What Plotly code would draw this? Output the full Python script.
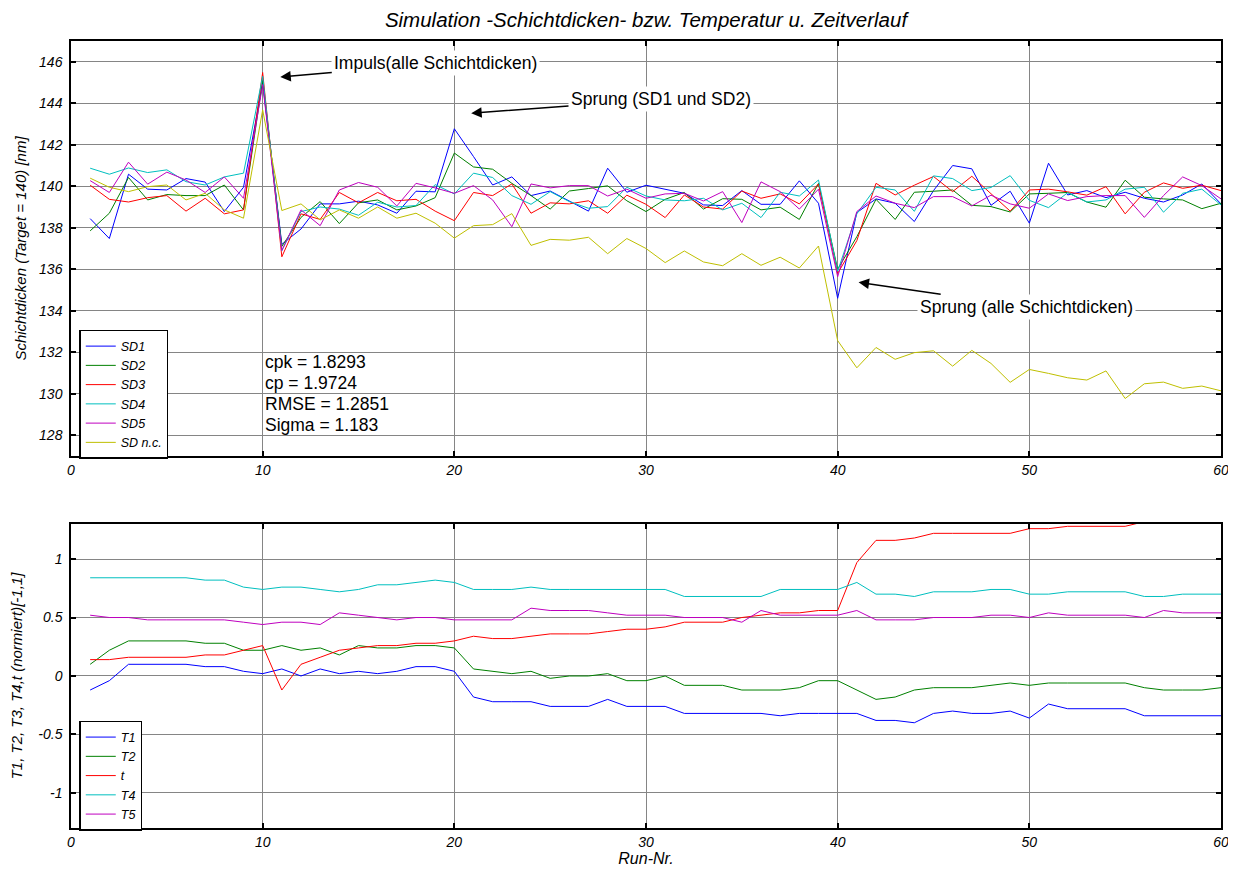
import plotly.graph_objects as go
from plotly.subplots import make_subplots

run = list(range(1, 61))

SD1 = [138.44, 137.48, 140.58, 139.86, 139.82, 140.37, 140.2, 138.78, 139.95, 144.97,
       137.2, 137.94, 139.15, 139.15, 139.28, 139.1, 138.7, 139.76, 139.73, 142.77,
       141.43, 140.06, 140.45, 139.55, 139.77, 139.3, 138.8, 140.87, 139.71, 140.05,
       139.86, 139.66, 139.1, 139.07, 139.79, 139.13, 139.13, 140.26, 139.18, 134.6,
       138.73, 139.39, 139.18, 138.3, 139.79, 141.0, 140.84, 139.08, 139.76, 138.22,
       141.11, 139.58, 139.79, 139.45, 139.71, 139.42, 139.24, 139.58, 140.11, 139.15]
SD2 = [137.85, 138.7, 140.42, 139.34, 139.6, 139.55, 139.55, 140.06, 138.86, 145.1,
       137.1, 138.5, 139.26, 138.2, 139.2, 139.34, 138.86, 139.05, 139.45, 141.6,
       140.93, 140.82, 140.14, 139.55, 138.9, 139.77, 139.89, 140.02, 139.3, 138.78,
       139.37, 139.7, 138.9, 139.4, 139.37, 138.86, 138.99, 138.4, 140.14, 136.0,
       137.57, 139.37, 138.4, 139.71, 139.76, 139.82, 139.08, 139.02, 138.76, 139.63,
       139.66, 139.7, 139.24, 138.99, 140.29, 139.47, 139.39, 139.34, 138.92, 139.18]
SD3 = [140.05, 139.37, 139.24, 139.45, 139.55, 138.8, 139.42, 138.67, 138.86, 145.48,
       136.6, 138.67, 138.4, 139.7, 139.2, 139.7, 139.3, 139.37, 138.8, 138.34,
       139.7, 139.55, 140.11, 138.7, 139.2, 139.15, 139.3, 138.7, 139.57, 139.13,
       138.49, 139.58, 139.0, 138.9, 139.77, 139.42, 139.63, 139.15, 140.11, 135.8,
       137.38, 140.14, 139.58, 140.05, 140.47, 139.74, 140.48, 139.66, 138.8, 139.82,
       139.86, 139.73, 139.57, 139.98, 138.67, 139.71, 140.16, 139.9, 140.05, 139.79]
SD4 = [140.87, 140.58, 140.88, 140.66, 140.79, 140.22, 140.06, 140.45, 140.63, 145.3,
       136.9, 138.78, 139.0, 138.9, 138.6, 139.23, 139.0, 139.07, 140.08, 139.63,
       140.63, 140.42, 139.55, 139.13, 139.74, 139.26, 138.94, 139.02, 139.95, 139.53,
       139.34, 139.3, 139.42, 138.86, 139.18, 138.49, 139.71, 139.53, 140.3, 135.9,
       138.67, 139.95, 139.82, 138.79, 140.5, 140.37, 139.79, 139.94, 140.51, 139.32,
       138.97, 139.69, 139.24, 139.34, 139.86, 139.95, 138.75, 139.66, 139.86, 139.1]
SD5 = [140.27, 139.7, 141.16, 140.1, 140.68, 140.3, 139.7, 140.45, 139.42, 144.9,
       136.9, 138.86, 138.1, 139.82, 140.18, 139.95, 139.05, 140.14, 139.92, 139.66,
       140.03, 139.34, 138.05, 140.11, 139.92, 140.03, 140.03, 139.53, 139.86, 139.42,
       139.63, 139.66, 139.29, 139.74, 138.25, 140.21, 139.74, 138.9, 139.86, 135.64,
       138.78, 139.53, 139.18, 138.97, 139.5, 139.5, 139.05, 139.57, 139.15, 138.94,
       139.63, 139.31, 139.5, 139.55, 139.55, 138.5, 139.55, 140.45, 140.03, 139.39]
SDnc = [140.39, 139.95, 139.74, 139.98, 140.06, 139.34, 139.66, 138.86, 138.46, 143.68,
        138.83, 139.15, 138.38, 138.86, 138.46, 139.0, 138.46, 138.7, 138.22, 137.5,
        138.1, 138.15, 138.68, 137.15, 137.44, 137.4, 137.54, 136.75, 137.48, 137.0,
        136.32, 136.88, 136.35, 136.17, 136.75, 136.19, 136.58, 136.06, 137.12, 132.56,
        131.25, 132.23, 131.66, 131.98, 132.07, 131.33, 132.09, 131.46, 130.55, 131.17,
        130.98, 130.77, 130.66, 131.1, 129.77, 130.48, 130.56, 130.26, 130.37, 130.14]

T1 = [-0.12, -0.04, 0.1, 0.1, 0.1, 0.1, 0.08, 0.08, 0.04, 0.02,
      0.06, 0.0, 0.06, 0.02, 0.04, 0.02, 0.04, 0.08, 0.08, 0.04,
      -0.18, -0.22, -0.22, -0.22, -0.26, -0.26, -0.26, -0.2, -0.26, -0.26,
      -0.26, -0.32, -0.32, -0.32, -0.32, -0.32, -0.34, -0.32, -0.32, -0.32,
      -0.32, -0.38, -0.38, -0.4, -0.32, -0.3, -0.32, -0.32, -0.3, -0.36,
      -0.24, -0.28, -0.28, -0.28, -0.28, -0.34, -0.34, -0.34, -0.34, -0.34]
T2 = [0.1, 0.22, 0.3, 0.3, 0.3, 0.3, 0.28, 0.28, 0.22, 0.22,
      0.26, 0.22, 0.24, 0.18, 0.26, 0.24, 0.24, 0.26, 0.26, 0.24,
      0.06, 0.04, 0.02, 0.04, -0.02, 0.0, 0.0, 0.02, -0.04, -0.04,
      0.0, -0.08, -0.08, -0.08, -0.12, -0.12, -0.12, -0.1, -0.04, -0.04,
      -0.12, -0.2, -0.18, -0.12, -0.1, -0.1, -0.1, -0.08, -0.06, -0.08,
      -0.06, -0.06, -0.06, -0.06, -0.06, -0.1, -0.12, -0.12, -0.12, -0.1]
t = [0.14, 0.14, 0.16, 0.16, 0.16, 0.16, 0.18, 0.18, 0.22, 0.26,
     -0.12, 0.1, 0.16, 0.22, 0.24, 0.26, 0.26, 0.28, 0.28, 0.3,
     0.34, 0.32, 0.32, 0.34, 0.36, 0.36, 0.36, 0.38, 0.4, 0.4,
     0.42, 0.46, 0.46, 0.46, 0.5, 0.52, 0.54, 0.54, 0.56, 0.56,
     0.97, 1.16, 1.16, 1.18, 1.22, 1.22, 1.22, 1.22, 1.22, 1.26,
     1.26, 1.28, 1.28, 1.28, 1.28, 1.32, 1.34, 1.34, 1.36, 1.36]
T4 = [0.84, 0.84, 0.84, 0.84, 0.84, 0.84, 0.82, 0.82, 0.76, 0.74,
      0.76, 0.76, 0.74, 0.72, 0.74, 0.78, 0.78, 0.8, 0.82, 0.8,
      0.74, 0.74, 0.74, 0.76, 0.74, 0.74, 0.74, 0.74, 0.74, 0.74,
      0.74, 0.68, 0.68, 0.68, 0.68, 0.68, 0.74, 0.74, 0.74, 0.74,
      0.8, 0.7, 0.7, 0.68, 0.72, 0.72, 0.72, 0.74, 0.74, 0.7,
      0.7, 0.72, 0.72, 0.72, 0.72, 0.68, 0.68, 0.7, 0.7, 0.7]
T5 = [0.52, 0.5, 0.5, 0.48, 0.48, 0.48, 0.48, 0.48, 0.46, 0.44,
      0.46, 0.46, 0.44, 0.54, 0.52, 0.5, 0.48, 0.5, 0.5, 0.48,
      0.48, 0.48, 0.48, 0.58, 0.56, 0.56, 0.56, 0.54, 0.52, 0.52,
      0.52, 0.5, 0.5, 0.5, 0.46, 0.56, 0.52, 0.52, 0.52, 0.52,
      0.56, 0.48, 0.48, 0.48, 0.5, 0.5, 0.5, 0.52, 0.52, 0.5,
      0.54, 0.52, 0.52, 0.52, 0.52, 0.5, 0.56, 0.54, 0.54, 0.54]

top_names = ["SD1", "SD2", "SD3", "SD4", "SD5", "SD n.c."]
top_series = [SD1, SD2, SD3, SD4, SD5, SDnc]
bot_names = ["T1", "T2", "t", "T4", "T5"]
bot_series = [T1, T2, t, T4, T5]
colors = ["#0000FF", "#008000", "#FF0000", "#00BFBF", "#BF00BF", "#BFBF00"]
bot_colors = ["#0000FF", "#008000", "#FF0000", "#00BFBF", "#BF00BF"]

stats_text = ["cpk = 1.8293", "cp = 1.9724", "RMSE = 1.2851", "Sigma = 1.183"]
stats_y = [131.52, 130.5, 129.5, 128.48]

FONT = "Liberation Sans, Arial, sans-serif"

fig = make_subplots(rows=2, cols=1, shared_xaxes=False, vertical_spacing=0.0)

for name, ys, c in zip(top_names, top_series, colors):
    fig.add_trace(go.Scatter(x=run, y=ys, mode="lines", name=name,
                             line=dict(color=c, width=1), legend="legend"), row=1, col=1)
for name, ys, c in zip(bot_names, bot_series, bot_colors):
    fig.add_trace(go.Scatter(x=run, y=ys, mode="lines", name=name,
                             line=dict(color=c, width=1), legend="legend2"), row=2, col=1)

axis_common = dict(showline=True, linecolor="black", linewidth=1.5, mirror="ticks",
                   ticks="inside", ticklen=5, tickcolor="black", tickwidth=1.5,
                   showgrid=True, gridcolor="#858585", gridwidth=1, zeroline=False,
                   automargin=False,
                   tickfont=dict(family=FONT, size=14, style="italic", color="black"))

fig.update_layout(
    template="plotly",
    width=1228, height=862,
    margin=dict(l=63, r=15, t=33, b=42, autoexpand=False),
    paper_bgcolor="white", plot_bgcolor="white",
    font=dict(family=FONT, color="black"),
    title=dict(text="Simulation -Schichtdicken- bzw. Temperatur u. Zeitverlauf",
               x=0.5, xref="paper", y=(862 - 12) / 862, yanchor="middle",
               font=dict(family=FONT, size=20.5, style="italic", color="black")),
    xaxis=dict(domain=[0, 1], range=[0, 60], tickvals=[0, 10, 20, 30, 40, 50, 60], **axis_common),
    yaxis=dict(domain=[0.4727, 1.0], range=[127, 147],
               tickvals=[128, 130, 132, 134, 136, 138, 140, 142, 144, 146],
               ticklabelstandoff=4,
               title=dict(text="Schichtdicken (Target = 140) [nm]", standoff=9,
                          font=dict(family=FONT, size=15, style="italic")),
               **axis_common),
    xaxis2=dict(domain=[0, 1], range=[0, 60], tickvals=[0, 10, 20, 30, 40, 50, 60],
                title=dict(text="Run-Nr.", standoff=1,
                           font=dict(family=FONT, size=16, style="italic")),
                **axis_common),
    yaxis2=dict(domain=[0, 0.3863], range=[-1.3, 1.3],
                tickvals=[-1, -0.5, 0, 0.5, 1], ticktext=["-1", "-0.5", "0", "0.5", "1"],
                ticklabelstandoff=4,
                title=dict(text="T1, T2, T3, T4,t (normiert)[-1,1]", standoff=14,
                           font=dict(family=FONT, size=15, style="italic")),
                **axis_common),
    legend=dict(x=0.0072, y=0.6328, xanchor="left", yanchor="top",
                bgcolor="white", bordercolor="black", borderwidth=1.5,
                font=dict(family=FONT, size=12.5, style="italic", color="black"),
                tracegroupgap=0, itemwidth=30),
    legend2=dict(x=0.0072, y=0.136, xanchor="left", yanchor="top",
                 bgcolor="white", bordercolor="black", borderwidth=1.5,
                 font=dict(family=FONT, size=12.5, style="italic", color="black"),
                 tracegroupgap=0, itemwidth=30),
)

for txt, yv in zip(stats_text, stats_y):
    fig.add_annotation(x=10, y=yv, xref="x", yref="y", text=txt, showarrow=False,
                       xanchor="left", yanchor="middle",
                       font=dict(family=FONT, size=17.5, color="black"))

arrow_common = dict(xref="x", yref="y", showarrow=True, arrowhead=2, arrowsize=1.4,
                    arrowwidth=1.5, arrowcolor="black", bgcolor="white",
                    font=dict(family=FONT, size=17.5, color="black"), borderpad=2)
fig.add_annotation(x=10.92, y=145.26, ax=155.5, ay=-14,
                   text="Impuls(alle Schichtdicken)", **arrow_common)
fig.add_annotation(x=20.88, y=143.52, ax=189.8, ay=-14,
                   text="Sprung (SD1 und SD2)", **arrow_common)
fig.add_annotation(x=41.09, y=135.37, ax=168.4, ay=24.4,
                   text="Sprung (alle Schichtdicken)", **arrow_common)

fig.write_html("out.html")
